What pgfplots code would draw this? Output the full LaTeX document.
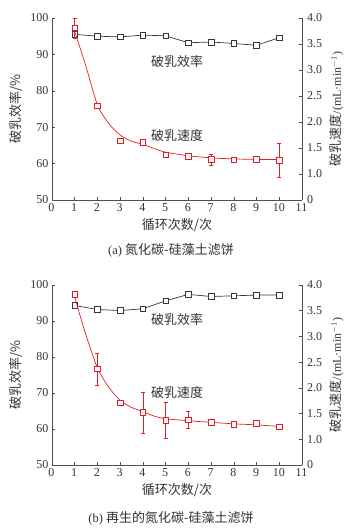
\documentclass[border=0pt]{standalone}
\usepackage{pgfplots}
\pgfplotsset{compat=1.18}
\usepackage{fontspec}
\setmainfont{Liberation Serif}
\newfontfamily\cjk{Noto Sans CJK SC}
\definecolor{cred}{RGB}{228,30,38}
\definecolor{cgray}{RGB}{55,55,55}
\definecolor{axgray}{RGB}{80,80,80}
\newcommand\cf{\fontsize{13}{15}\selectfont\cjk}
\pgfplotsset{
  base/.style={
    scale only axis, width=250pt,
    xmin=0, xmax=11,
    tick align=inside, major tick length=3pt,
    axis line style={-, axgray, line width=0.6pt},
    every tick/.style={axgray, line width=0.5pt},
    /pgf/number format/assume math mode=true,
    tick label style={font=\fontsize{12}{14}\selectfont, text=black!80},
    label style={font=\fontsize{12}{14}\selectfont, text=black!80},
  },
  left/.style={base,
    axis x line*=bottom, axis y line*=left,
    xtick={0,...,11},
    ymin=50, ymax=100, ytick={50,60,...,100},
    xlabel={{\cf 循环次数/次}},
    ylabel={{\cf 破乳效率/\%}},
    ylabel style={yshift=1pt},
    xticklabel style={xshift=-0.5pt},
  },
  right/.style={base,
    axis x line=none, axis y line*=right,
    ymin=0.5, ymax=4, ytick={0.5,1,1.5,2,2.5,3,3.5,4},
    yticklabels={0,1.0,1.5,2.0,2.5,3.0,3.5,4.0},
    yticklabel style={xshift=1.5pt},
    ylabel={{\cf 破乳速度}/(mL·min$^{-1}$)},
    ylabel style={yshift=-1pt},
  },
  eff/.style={cgray, line width=0.7pt, mark=square*, mark size=2.8pt, mark options={fill=white, draw=cgray, line width=0.6pt}},
  spd/.style={cred, only marks, mark=square*, mark size=2.8pt, mark options={fill=white, draw=cred, line width=0.6pt},
    error bars/.cd, y dir=both, y explicit, error bar style={cred, line width=0.6pt}, error mark options={rotate=90, mark size=2pt, cred}},
  fit/.style={cred, line width=0.7pt, smooth, no marks},
}
\begin{document}
\begin{tikzpicture}
\useasboundingbox (-52pt,-65pt) rectangle (300pt,465pt);
% ---------- (a) ----------
\begin{axis}[left, height=182pt, at={(0pt,265pt)}, anchor=south west, name=A]
\addplot[eff] coordinates {(1,95.5) (2,95.0) (3,94.8) (4,95.3) (5,95.1) (6,93.2) (7,93.4) (8,93.0) (9,92.5) (10,94.6)};
\node[font=\cf, text=black!80] at (axis cs:5.5,88) {破乳效率};
\node[font=\cf, text=black!80] at (axis cs:5.5,67.8) {破乳速度};
\end{axis}
\begin{axis}[right, height=182pt, at={(0pt,265pt)}, anchor=south west]
\addplot[fit] coordinates {(1,3.74) (1.5,3.06) (2,2.33) (2.5,1.97) (3,1.75) (3.5,1.63) (4,1.57) (4.5,1.49) (5,1.42) (6,1.35) (7,1.31) (8,1.29) (9,1.28) (10,1.28)};
\addplot[spd] coordinates {
 (1,3.81) +- (0,0.19)
 (2,2.31) +- (0,0.02)
 (3,1.64) +- (0,0.02)
 (4,1.61) +- (0,0.05)
 (5,1.37) +- (0,0.05)
 (6,1.34) +- (0,0.04)
 (7,1.28) +- (0,0.11)
 (8,1.27) +- (0,0.03)
 (9,1.28) +- (0,0.02)
 (10,1.26) +- (0,0.33)};
\end{axis}
\node[font=\fontsize{12.5}{14}\selectfont, text=black!80] at (119pt,215pt) {(a) {\fontsize{13}{15}\selectfont\cjk 氮化碳-硅藻土滤饼}};
% ---------- (b) ----------
\begin{axis}[left, height=180pt, at={(0pt,0pt)}, anchor=south west, name=B]
\addplot[eff] coordinates {(1,94.3) (2,93.2) (3,92.9) (4,93.4) (5,95.6) (6,97.4) (7,96.8) (8,97.0) (9,97.2) (10,97.2)};
\node[font=\cf, text=black!80] at (axis cs:5.5,90.5) {破乳效率};
\node[font=\cf, text=black!80] at (axis cs:5.5,70) {破乳速度};
\end{axis}
\begin{axis}[right, height=180pt, at={(0pt,0pt)}, anchor=south west]
\addplot[fit] coordinates {(1,3.76) (1.5,3.02) (2,2.39) (2.5,2.01) (3,1.76) (3.5,1.62) (4,1.54) (4.5,1.45) (5,1.40) (6,1.36) (7,1.33) (8,1.30) (9,1.28) (10,1.25)};
\addplot[spd] coordinates {
 (1,3.82) +- (0,0.05)
 (2,2.37) +- (0,0.31)
 (3,1.71) +- (0,0.04)
 (4,1.52) +- (0,0.40)
 (5,1.37) +- (0,0.35)
 (6,1.38) +- (0,0.16)
 (7,1.33) +- (0,0.02)
 (8,1.29) +- (0,0.03)
 (9,1.31) +- (0,0.02)
 (10,1.24) +- (0,0.03)};
\end{axis}
\node[font=\fontsize{12.5}{14}\selectfont, text=black!80] at (119pt,-53pt) {(b) {\fontsize{13}{15}\selectfont\cjk 再生的氮化碳-硅藻土滤饼}};
\end{tikzpicture}
\end{document}
